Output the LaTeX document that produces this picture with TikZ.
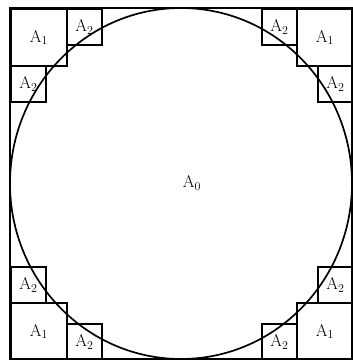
\documentclass[tikz,border=0pt]{standalone}
\usepackage{tikz}

\tikzset{
    contorno/.style={line width=1.7pt},
    etichetta/.style={font=\fontsize{17}{20}\selectfont},
    quadro/.style={draw, line width=1.7pt, anchor=north west, inner sep=0pt, etichetta},
    grande/.style={quadro, minimum width=56pt, minimum height=57pt},
    piccolo/.style={quadro, minimum width=35pt, minimum height=36pt}
}

\begin{document}
\begin{tikzpicture}[x=1pt, y=-1pt]
        \useasboundingbox (0,0) rectangle (353,360);

        % Quadrato esterno e cerchio
        \draw[contorno] (10,8) rectangle (352,359);
        \draw[contorno] (181,183.5) ellipse (171 and 175.5);
        \node[etichetta] (a0) at (192,183) {A$_0$};

        % Angolo in alto a sinistra
        \node[grande] (a1nw) at (10,8) {A$_1$};
        \node[piccolo] (a2nwt) at (66,8) {A$_2$};
        \node[piccolo] (a2nwl) at (10,65) {A$_2$};

        % Angolo in alto a destra
        \node[grande] (a1ne) at (296,8) {A$_1$};
        \node[piccolo] (a2net) at (261,8) {A$_2$};
        \node[piccolo] (a2ner) at (317,65) {A$_2$};

        % Angolo in basso a sinistra
        \node[grande] (a1sw) at (10,302) {A$_1$};
        \node[piccolo] (a2swl) at (10,266) {A$_2$};
        \node[piccolo] (a2swb) at (66,323) {A$_2$};

        % Angolo in basso a destra
        \node[grande] (a1se) at (296,302) {A$_1$};
        \node[piccolo] (a2ser) at (317,266) {A$_2$};
        \node[piccolo] (a2seb) at (261,323) {A$_2$};

    \end{tikzpicture}
\end{document}
